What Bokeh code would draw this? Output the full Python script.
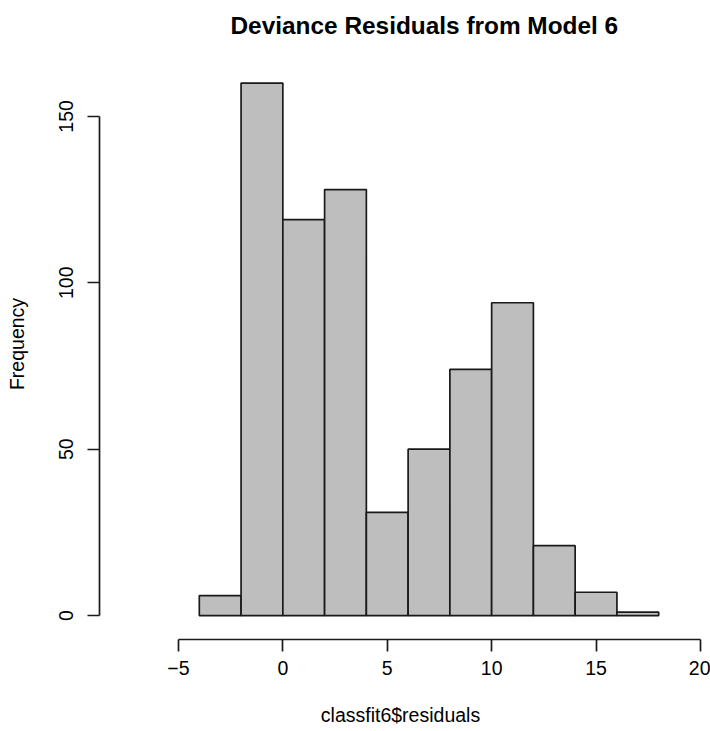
from bokeh.plotting import figure
from bokeh.models import FixedTicker, Range1d, ColumnDataSource
from bokeh.embed import file_html
from bokeh.resources import INLINE

# Histogram data (bin edges and counts)
bin_left = [-4, -2, 0, 2, 4, 6, 8, 10, 12, 14, 16]
bin_right = [-2, 0, 2, 4, 6, 8, 10, 12, 14, 16, 18]
counts = [6, 160, 119, 128, 31, 50, 74, 94, 21, 7, 1]
x_ticks = [-5, 0, 5, 10, 15, 20]
y_ticks = [0, 50, 100, 150]
title_text = "Deviance Residuals from Model 6"
x_label = "classfit6$residuals"
y_label = "Frequency"

FONT = "Liberation Sans"

src = ColumnDataSource(dict(left=bin_left, right=bin_right, top=counts,
                            bottom=[0] * len(counts)))

p = figure(width=710, height=731, output_backend="svg", toolbar_location=None,
           x_range=Range1d(-8.78, 20.05), y_range=Range1d(-7.2, 170.4),
           min_border_left=99, min_border_right=9, min_border_top=48,
           min_border_bottom=92)
p.background_fill_color = "white"
p.border_fill_color = "white"
p.outline_line_color = None
p.xgrid.visible = False
p.ygrid.visible = False

p.quad(left="left", right="right", top="top", bottom="bottom", source=src,
       fill_color="#BEBEBE", line_color="#1A1A1A", line_width=1.7)

# Title
p.title.text = title_text
p.title.text_font = FONT
p.title.text_font_size = "24.4px"
p.title.text_font_style = "bold"
p.title.align = "left"
p.title.offset = 131
p.title.standoff = 19
p.title.text_color = "black"

# Axes
for ax in (p.xaxis[0], p.yaxis[0]):
    ax.axis_line_width = 1.7
    ax.axis_line_color = "#1A1A1A"
    ax.major_tick_line_width = 1.7
    ax.major_tick_line_color = "#1A1A1A"
    ax.major_tick_in = 0
    ax.major_tick_out = 12
    ax.minor_tick_line_color = None
    ax.major_label_text_font = FONT
    ax.major_label_text_font_size = "19.5px"
    ax.major_label_text_color = "black"
    ax.axis_label_text_font = FONT
    ax.axis_label_text_font_size = "19.5px"
    ax.axis_label_text_font_style = "normal"
    ax.axis_label_text_color = "black"

xa = p.xaxis[0]
xa.ticker = FixedTicker(ticks=x_ticks)
xa.bounds = (x_ticks[0], x_ticks[-1])
xa.major_label_overrides = {-5: "\u22125"}
xa.axis_label = x_label
xa.major_label_standoff = 9
xa.axis_label_standoff = 26

ya = p.yaxis[0]
ya.ticker = FixedTicker(ticks=y_ticks)
ya.bounds = (y_ticks[0], y_ticks[-1])
ya.major_label_orientation = "vertical"
ya.axis_label = y_label
ya.major_label_standoff = 14
ya.axis_label_standoff = 29

open("out.html", "w").write(file_html(p, INLINE))
